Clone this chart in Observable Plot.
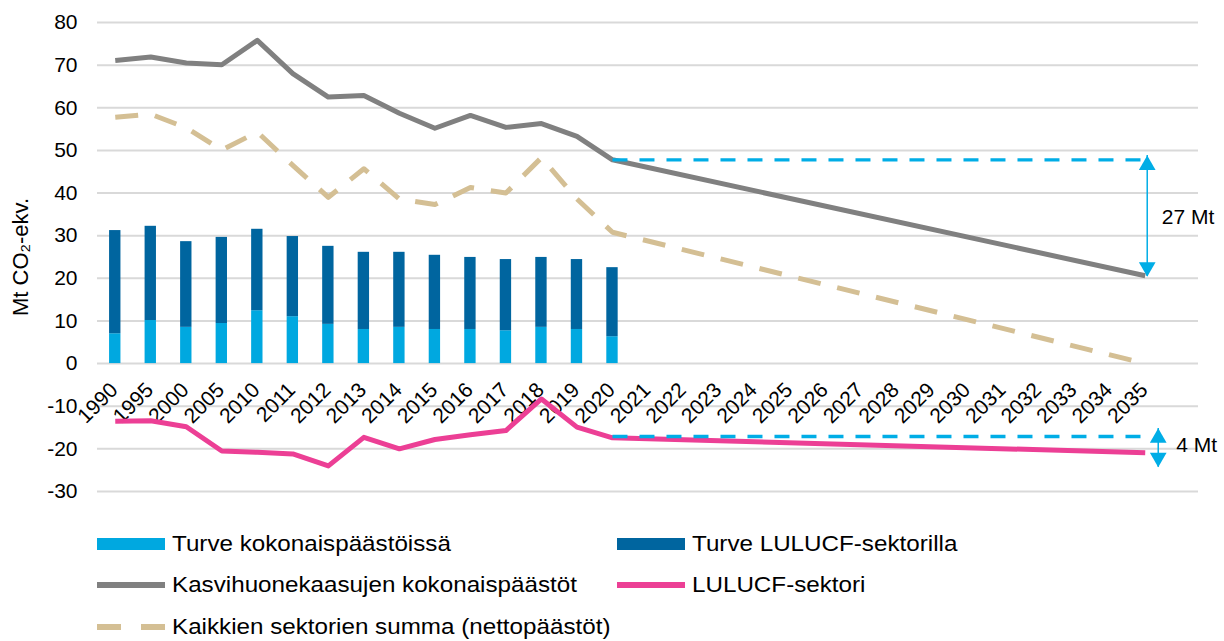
<!DOCTYPE html>
<html><head><meta charset="utf-8">
<script src="https://cdn.jsdelivr.net/npm/d3@7"></script>
<script src="https://cdn.jsdelivr.net/npm/@observablehq/plot@0.6"></script>
<style>
body{margin:0;background:#fff;font-family:"Liberation Sans",Arial,sans-serif;}
#wrap{position:relative;width:1224px;height:641px;overflow:hidden;background:#fff}
#wrap > svg{position:absolute;left:0;top:0}
.leg{position:absolute;display:flex;align-items:center;font-size:22px;color:#000;white-space:nowrap;height:30px;line-height:30px}
.leg svg{margin-right:7px;flex:none}
.leg span{display:inline-block;transform:scaleX(1.1);transform-origin:left center}
</style></head><body><div id="wrap"></div>
<script>
// ---- data ----
const years = ["1990","1995","2000","2005","2010","2011","2012","2013","2014","2015","2016","2017","2018","2019","2020",
  "2021","2022","2023","2024","2025","2026","2027","2028","2029","2030","2031","2032","2033","2034","2035"];
const histYears = ["1990","1995","2000","2005","2010","2011","2012","2013","2014","2015","2016","2017","2018","2019","2020"];
const peatTotalEmis = [7.0, 10.1, 8.5, 9.4, 12.4, 11.0, 9.2, 8.0, 8.5, 8.0, 8.0, 7.7, 8.5, 8.0, 6.3];      // Turve kokonaispäästöissä
const peatLulucf    = [24.2, 22.1, 20.1, 20.2, 19.1, 18.8, 18.3, 18.1, 17.6, 17.4, 16.9, 16.7, 16.4, 16.4, 16.2]; // Turve LULUCF-sektorilla
const lineYears = [...histYears, "2035"];
const ghgTotal = [71.1, 71.9, 70.5, 70.1, 75.8, 68.0, 62.5, 62.9, 58.7, 55.2, 58.2, 55.4, 56.3, 53.3, 47.8, 20.6];
const netSum   = [57.8, 58.5, 55.3, 50.1, 54.3, 46.5, 39.0, 45.7, 38.6, 37.3, 41.3, 40.0, 48.3, 38.6, 30.8, 0.0];
const lulucf   = [-13.5, -13.4, -14.8, -20.5, -20.8, -21.2, -24.0, -17.3, -20.0, -17.8, -16.7, -15.7, -8.3, -14.9, -17.4, -20.9];
const yTicks = [-30, -20, -10, 0, 10, 20, 30, 40, 50, 60, 70, 80];
const refFrom = "2020", refTo = "2035";
const refLevels = [47.8, -17.1];
const arrowBig = {top: 48.8, bottom: 20.4, label: "27 Mt", labelY: 34.3};
const arrowSmall = {top: -15.2, bottom: -24.3, label: "4 Mt", labelY: -19.2};
const seriesNames = ["Turve kokonaispäästöissä", "Turve LULUCF-sektorilla", "Kasvihuonekaasujen kokonaispäästöt", "LULUCF-sektori", "Kaikkien sektorien summa (nettopäästöt)"];
const yLabel = "Mt CO₂-ekv.";

// ---- colours ----
const cLight = "#00a8e0", cDark = "#00659f", cGrey = "#808080", cTan = "#d4bf94", cPink = "#ec3f95", cRef = "#00ade6";

// ---- derived tables ----
const barData = [];
histYears.forEach((y, i) => {
  barData.push({year: y, series: seriesNames[0], value: peatTotalEmis[i]});
  barData.push({year: y, series: seriesNames[1], value: peatLulucf[i]});
});
const mk = vals => lineYears.map((y, i) => ({year: y, value: vals[i]}));
const xDomain = [...years, "pad"];
const refData = refLevels.flatMap((v, k) => [{year: refFrom, value: v, k}, {year: refTo, value: v, k}]);

const plot = Plot.plot({
  width: 1224, height: 510,
  marginLeft: 97, marginRight: 26, marginTop: 22, marginBottom: 19,
  style: {fontFamily: "Liberation Sans, Arial, sans-serif", background: "transparent"},
  x: {type: "band", domain: xDomain, paddingInner: 0.68, paddingOuter: 0.34, round: false, axis: null},
  y: {domain: [-30, 80], axis: null},
  color: {domain: seriesNames.slice(0, 2), range: [cLight, cDark]},
  marks: [
    Plot.gridY(yTicks, {stroke: "#d9d9d9", strokeOpacity: 1, strokeWidth: 2}),
    Plot.axisY(yTicks, {tickSize: 0, tickPadding: 20, fontSize: 21, fill: "#000", label: null, tickFormat: d => String(d)}),
    Plot.text([yLabel], {frameAnchor: "left", textAnchor: "middle", dx: -77, rotate: -90, fontSize: 22, fill: "#000"}),
    Plot.barY(barData, {x: "year", y: "value", fill: "series"}),
    Plot.text(years, {x: d => d, y: 0, text: d => d, rotate: -45, textAnchor: "end", dx: -1, dy: 23, fontSize: 21, fill: "#000"}),
    Plot.line(mk(netSum), {x: "year", y: "value", stroke: cTan, strokeWidth: 5, strokeDasharray: "23,17", strokeLinecap: "butt", strokeLinejoin: "round"}),
    Plot.line(mk(ghgTotal), {x: "year", y: "value", stroke: cGrey, strokeWidth: 5, strokeLinejoin: "round", strokeLinecap: "butt"}),
    Plot.line(mk(lulucf), {x: "year", y: "value", stroke: cPink, strokeWidth: 5, strokeLinejoin: "round", strokeLinecap: "butt"}),
    Plot.line(refData, {x: "year", y: "value", z: "k", stroke: cRef, strokeWidth: 3.3, strokeDasharray: "15,12", strokeLinecap: "butt"}),
    // 27 Mt arrow
    Plot.ruleX([refTo], {x: d => d, y1: arrowBig.top, y2: arrowBig.bottom, stroke: cRef, strokeWidth: 1.5, dx: 2}),
    Plot.dot([refTo], {x: d => d, y: arrowBig.top, symbol: "triangle", r: 6.2, fill: cRef, stroke: "none", dx: 2, dy: 9.6}),
    Plot.dot([refTo], {x: d => d, y: arrowBig.bottom, symbol: "triangle", r: 6.2, fill: cRef, stroke: "none", rotate: 180, dx: 2, dy: -9.6}),
    Plot.text([arrowBig.label], {x: () => refTo, y: arrowBig.labelY, text: d => d, textAnchor: "start", dx: 16.5, fontSize: 21, fill: "#000"}),
    // 4 Mt arrow
    Plot.ruleX([refTo], {x: d => d, y1: arrowSmall.top, y2: arrowSmall.bottom, stroke: cRef, strokeWidth: 1.5, dx: 13}),
    Plot.dot([refTo], {x: d => d, y: arrowSmall.top, symbol: "triangle", r: 6.2, fill: cRef, stroke: "none", dx: 13, dy: 9.6}),
    Plot.dot([refTo], {x: d => d, y: arrowSmall.bottom, symbol: "triangle", r: 6.2, fill: cRef, stroke: "none", rotate: 180, dx: 13, dy: -9.6}),
    Plot.text([arrowSmall.label], {x: () => refTo, y: arrowSmall.labelY, text: d => d, textAnchor: "start", dx: 31, fontSize: 21, fill: "#000"})
  ]
});
const wrap = document.getElementById("wrap");
wrap.appendChild(plot);

// ---- legend (HTML below the chart) ----
const legendItems = [
  {name: seriesNames[0], kind: "bar", color: cLight, left: 97, top: 544},
  {name: seriesNames[1], kind: "bar", color: cDark, left: 617, top: 544},
  {name: seriesNames[2], kind: "line", color: cGrey, left: 97, top: 585},
  {name: seriesNames[3], kind: "line", color: cPink, left: 617, top: 585},
  {name: seriesNames[4], kind: "dash", color: cTan, left: 97, top: 627}
];
legendItems.forEach(it => {
  const d = document.createElement("div");
  d.className = "leg";
  d.style.left = it.left + "px";
  d.style.top = (it.top - 15) + "px";
  let sw;
  if (it.kind === "bar") sw = `<svg width="68" height="14"><rect x="0" y="1" width="68" height="12" fill="${it.color}"/></svg>`;
  else if (it.kind === "line") sw = `<svg width="68" height="14"><line x1="0" x2="68" y1="7" y2="7" stroke="${it.color}" stroke-width="6"/></svg>`;
  else sw = `<svg width="68" height="14"><line x1="0" x2="68" y1="7" y2="7" stroke="${it.color}" stroke-width="6" stroke-dasharray="24,20"/></svg>`;
  d.innerHTML = sw + `<span>${it.name}</span>`;
  wrap.appendChild(d);
});
</script></body></html>
